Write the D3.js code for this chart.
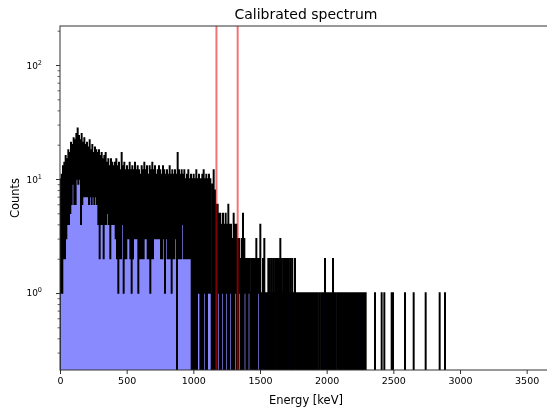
<!DOCTYPE html>
<html>
<head>
<meta charset="utf-8">
<script src="https://cdn.jsdelivr.net/npm/d3@7"></script>
<style>
  body { margin: 0; background: #fff; }
  svg { display: block; }
  text { font-family: "DejaVu Sans", sans-serif; fill: #000; }
</style>
</head>
<body>
<svg id="chart" width="547" height="409"></svg>
<script>
// Counts per 5 keV bin, first bin starts at 0 keV (one row = 100 keV)
var bin_width = 5;
var counts = [
  10,1,11,1,13,2,14,2,16,3,15,4,18,4,17,5,21,6,20,9,
  23,6,22,6,25,10,28,9,24,10,22,4,25,6,21,7,23,7,20,7,
  21,7,19,6,22,7,18,6,20,7,17,6,19,7,18,6,17,4,18,2,
  16,4,17,4,15,2,16,4,17,4,14,5,15,4,13,2,15,4,14,4,
  13,4,14,3,15,2,13,1,14,2,12,2,17,4,13,1,14,2,12,2,
  13,3,12,3,14,2,12,1,13,2,12,3,14,3,12,3,13,1,12,2,
  11,2,13,2,12,2,14,3,12,3,13,2,11,2,13,1,12,2,14,2,
  12,3,13,3,11,3,12,3,13,3,12,2,11,2,13,3,12,1,11,3,
  12,2,11,2,13,2,11,1,12,2,11,2,12,3,11,0,17,2,12,2,
  11,2,12,4,11,2,12,2,10,2,11,2,12,2,10,2,11,0,10,0,
  11,0,10,0,12,0,10,1,11,1,0,10,0,11,0,12,1,10,0,11,
  0,10,1,11,1,10,1,0,9,0,12,0,8,0,6,0,6,1,5,0,
  5,0,4,1,5,0,4,0,5,1,4,0,6,0,4,1,4,0,3,0,
  5,0,4,1,4,0,3,0,3,1,2,0,3,0,5,0,3,1,2,0,
  2,0,2,1,2,0,1,2,0,2,1,0,2,0,3,0,2,1,2,0,
  4,0,1,0,2,0,3,1,0,1,0,1,2,0,2,1,0,2,1,0,
  2,0,1,2,0,2,1,0,2,0,3,0,2,1,0,2,0,2,1,0,
  2,0,2,1,0,2,0,1,2,0,1,0,2,1,0,1,0,1,0,1,
  0,1,0,1,0,1,1,0,1,0,1,0,1,0,1,0,1,0,1,0,
  1,0,1,0,1,0,1,0,0,1,0,0,1,0,1,0,1,2,0,1,
  0,1,0,1,0,1,0,1,0,2,0,1,0,1,0,0,1,0,1,0,
  1,0,1,0,1,1,0,1,0,1,0,1,0,1,0,0,1,0,0,1,
  0,1,0,1,0,1,0,1,1,0,1,0,1,0,1,0,1,0,1,0,
  0,0,0,0,0,0,0,0,0,0,0,0,1,0,0,0,0,0,0,0,
  0,0,1,0,0,0,1,0,0,0,0,0,0,0,0,0,0,1,0,1,
  0,0,0,0,0,0,0,0,0,0,0,0,0,0,0,0,0,1,0,0,
  0,0,0,0,0,0,0,0,0,0,1,0,0,0,0,0,0,0,0,0,
  0,0,0,0,0,0,0,0,1,0,0,0,0,0,0,0,0,0,0,0,
  0,0,0,0,0,0,0,0,0,1,0,0,0,0,0,0,0,1,0,0
];
// Co-60 lines marked on the spectrum
var peak_energies = [1173.2, 1332.5];
var x_ticks = [0, 500, 1000, 1500, 2000, 2500, 3000, 3500];
var y_decades = [0, 1, 2];
var x_domain = [0, 3690];
var y_domain = [0.211, 220];

var svg = d3.select("#chart"),
    margin = {top: 26, left: 60, bottom: 39},
    plot_right = 552,
    plot_bottom = +svg.attr("height") - margin.bottom;

var x = d3.scaleLinear().domain(x_domain).range([margin.left, plot_right]);
var y = d3.scaleLog().domain(y_domain).range([plot_bottom, margin.top]);

var defs = svg.append("defs");
defs.append("clipPath").attr("id", "plot_clip")
  .append("rect")
  .attr("x", margin.left).attr("y", margin.top)
  .attr("width", plot_right - margin.left).attr("height", plot_bottom - margin.top);
// the reference picture is soft, as if scaled up from a smaller image
defs.append("filter").attr("id", "soft")
  .attr("x", 0).attr("y", 0).attr("width", 1).attr("height", 1)
  .attr("filterUnits", "userSpaceOnUse")
  .attr("x", 0).attr("y", 0).attr("width", 547).attr("height", 409)
  .append("feGaussianBlur").attr("stdDeviation", 0.55);

var root = svg.append("g").attr("filter", "url(#soft)");
root.append("rect").attr("width", 547).attr("height", 409).attr("fill", "#fff");

// step points: (left edge, count); zero counts fall below the axis
var pts = [[0, 0]];
counts.forEach(function(c, i){ pts.push([i * bin_width, c]); });
pts.push([counts.length * bin_width, 0]);

function y_of(c){ return c > 0 ? y(c) : plot_bottom + 40; }

var g_plot = root.append("g").attr("clip-path", "url(#plot_clip)");

g_plot.append("path").datum(pts)
  .attr("fill", "#8a8aff")
  .attr("d", d3.area().curve(d3.curveStepAfter)
     .x(function(d){ return x(d[0]); })
     .y0(plot_bottom + 40)
     .y1(function(d){ return y_of(d[1]); }));

g_plot.append("path").datum(pts)
  .attr("fill", "none")
  .attr("stroke", "#000")
  .attr("stroke-width", 1.3)
  .attr("d", d3.line().curve(d3.curveStepAfter)
     .x(function(d){ return x(d[0]); })
     .y(function(d){ return y_of(d[1]); }));

g_plot.selectAll("line.peak").data(peak_energies).enter().append("line")
  .attr("class", "peak")
  .attr("x1", function(d){ return x(d); }).attr("x2", function(d){ return x(d); })
  .attr("y1", margin.top).attr("y2", plot_bottom)
  .attr("stroke", "#e80000").attr("stroke-opacity", 0.55).attr("stroke-width", 2);

// spines
root.append("rect")
  .attr("x", margin.left).attr("y", margin.top)
  .attr("width", plot_right - margin.left).attr("height", plot_bottom - margin.top)
  .attr("fill", "none").attr("stroke", "#333").attr("stroke-width", 1);

// x axis
var xAxis = root.append("g")
  .attr("transform", `translate(0,${plot_bottom})`)
  .call(d3.axisBottom(x).tickValues(x_ticks).tickSize(4).tickPadding(3).tickFormat(d3.format("d")));
xAxis.select(".domain").remove();
xAxis.selectAll("line").attr("stroke", "#333").attr("stroke-width", 1);
xAxis.selectAll("text").style("font-size", "9.5px").style("font-family", "DejaVu Sans");

// y axis: minor ticks
var minor = [];
y_decades.concat([-1]).forEach(function(p){
  for (var k = 2; k <= 9; k++){
    var v = k * Math.pow(10, p);
    if (v >= y_domain[0] && v <= y_domain[1]) minor.push(v);
  }
});
var yMinor = root.append("g")
  .attr("transform", `translate(${margin.left},0)`)
  .call(d3.axisLeft(y).tickValues(minor).tickSize(2.4).tickFormat(""));
yMinor.select(".domain").remove();
yMinor.selectAll("line").attr("stroke", "#333").attr("stroke-width", 0.8);

var yMajor = root.append("g")
  .attr("transform", `translate(${margin.left},0)`)
  .call(d3.axisLeft(y).tickValues(y_decades.map(function(p){ return Math.pow(10, p); }))
        .tickSize(4).tickFormat(""));
yMajor.select(".domain").remove();
yMajor.selectAll("line").attr("stroke", "#333").attr("stroke-width", 1);

var ylab = root.append("g").selectAll("text").data(y_decades).enter().append("text")
  .attr("x", 42).attr("y", function(p){ return y(Math.pow(10, p)) + 3.5; })
  .attr("text-anchor", "end").style("font-size", "9px");
ylab.append("tspan").text("10");
ylab.append("tspan").attr("dy", -4).style("font-size", "6.5px").text(function(p){ return p; });

// labels
var cx = (margin.left + plot_right) / 2;
root.append("text").attr("x", cx).attr("y", 19).attr("text-anchor", "middle")
  .style("font-size", "14px").text("Calibrated spectrum");
root.append("text").attr("x", cx).attr("y", 404).attr("text-anchor", "middle")
  .style("font-size", "11.5px").text("Energy [keV]");
root.append("text").attr("transform", `translate(19,${(margin.top + plot_bottom) / 2}) rotate(-90)`)
  .attr("text-anchor", "middle").style("font-size", "11.5px").text("Counts");
</script>
</body>
</html>
